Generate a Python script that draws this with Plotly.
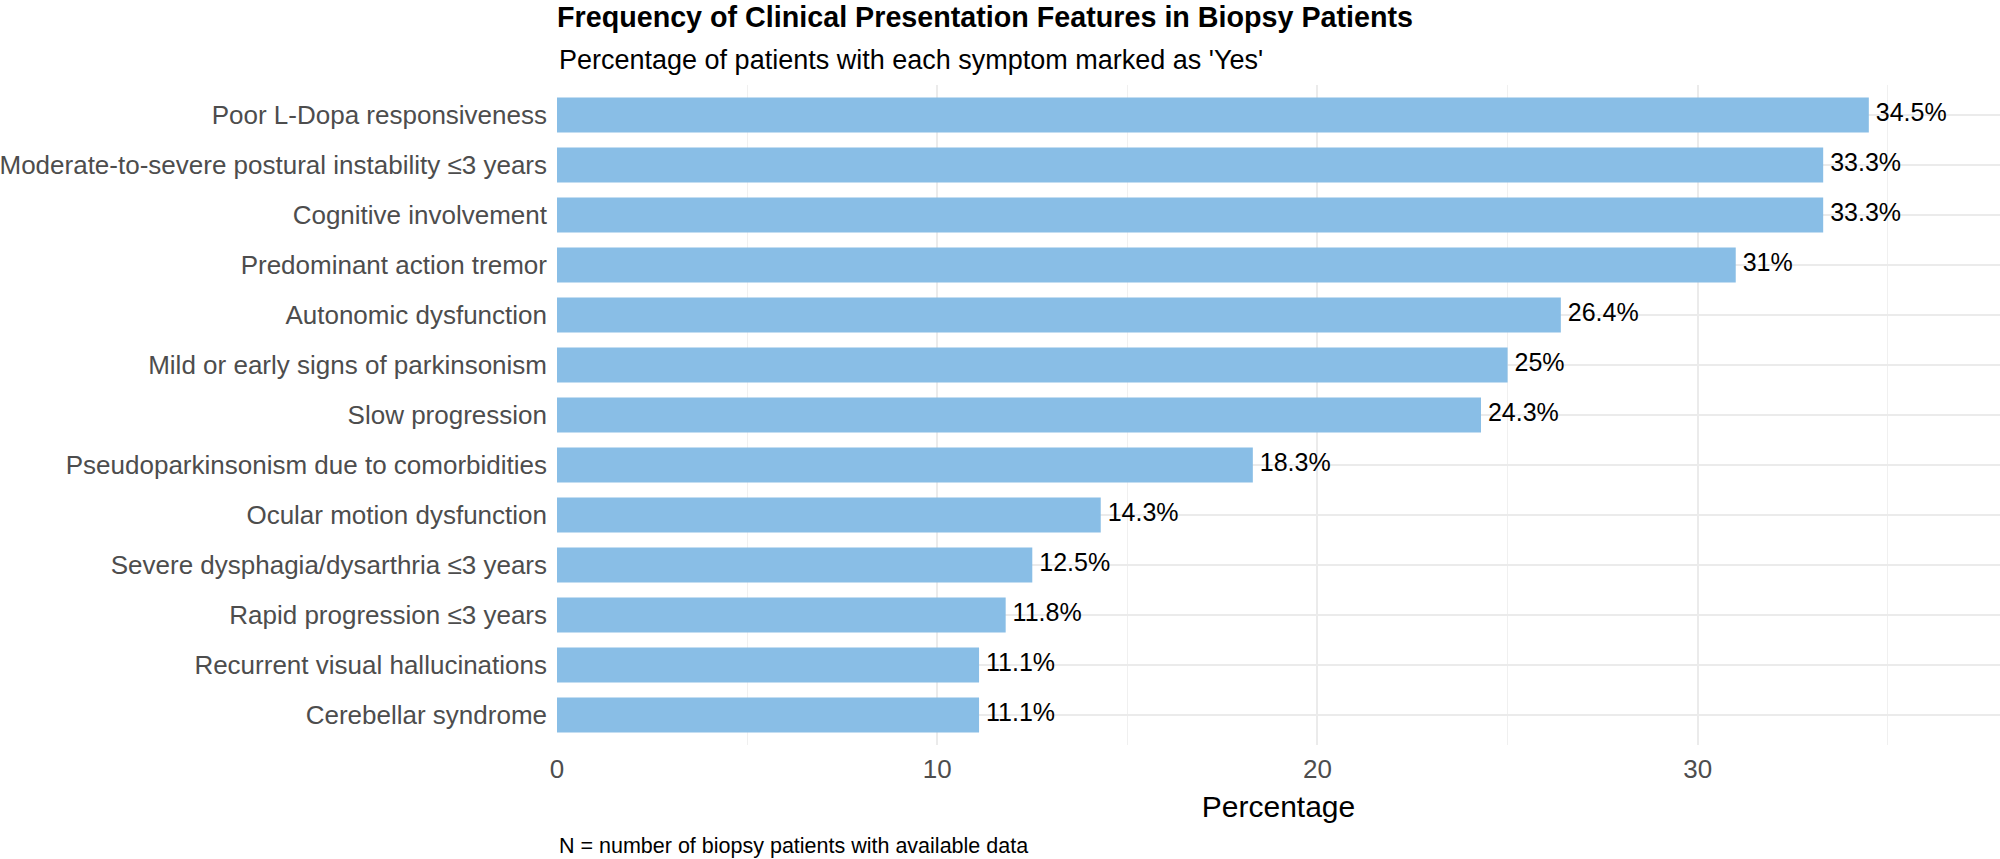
import plotly.graph_objects as go

categories = [
    "Poor L-Dopa responsiveness",
    "Moderate-to-severe postural instability ≤3 years",
    "Cognitive involvement",
    "Predominant action tremor",
    "Autonomic dysfunction",
    "Mild or early signs of parkinsonism",
    "Slow progression",
    "Pseudoparkinsonism due to comorbidities",
    "Ocular motion dysfunction",
    "Severe dysphagia/dysarthria ≤3 years",
    "Rapid progression ≤3 years",
    "Recurrent visual hallucinations",
    "Cerebellar syndrome",
]
percentages = [34.5, 33.3, 33.3, 31.0, 26.4, 25.0, 24.3, 18.3, 14.3, 12.5, 11.8, 11.1, 11.1]
labels = [f" {v:g}%" for v in percentages]
tick_vals = [0, 10, 20, 30]
minor_tick_vals = [5, 15, 25, 35]

FONT = "Liberation Sans, Arial, sans-serif"
BAR_COLOR = "#89BEE6"

W, H = 2000, 859
L, R, T, B = 557, 0, 85, 114
plot_h = H - T - B


def py(y_px):
    """container pixel (from top) -> paper y"""
    return (H - B - y_px) / plot_h


fig = go.Figure()
fig.add_trace(go.Bar(
    x=percentages, y=categories, orientation="h",
    marker=dict(color=BAR_COLOR, line=dict(width=0)),
    width=0.7, hoverinfo="x+y",
))
fig.add_trace(go.Scatter(
    x=percentages, y=categories, mode="text", text=labels,
    textposition="middle right",
    textfont=dict(family=FONT, size=25, color="black"),
    cliponaxis=False, hoverinfo="skip",
))

fig.update_layout(
    width=W, height=H,
    margin=dict(l=L, r=R, t=T, b=B, autoexpand=False),
    plot_bgcolor="white", paper_bgcolor="white",
    showlegend=False,
    font=dict(family=FONT, color="#4D4D4D"),
    title=dict(
        text="<b>Frequency of Clinical Presentation Features in Biopsy Patients</b>",
        x=L / W, xanchor="left", xref="container",
        y=1 - 17 / H, yanchor="middle", yref="container",
        font=dict(family=FONT, size=28.7, color="black"),
    ),
    xaxis=dict(
        range=[0, 37.95],
        tickvals=tick_vals,
        tickfont=dict(family=FONT, size=26, color="#4D4D4D"),
        showgrid=True, gridcolor="#EBEBEB", gridwidth=1.5,
        minor=dict(tickvals=minor_tick_vals, showgrid=True, gridcolor="#F0F0F0", gridwidth=1),
        zeroline=False, showline=False, ticks="", ticklabelstandoff=6,
        title=dict(text="Percentage", font=dict(family=FONT, size=30, color="black"), standoff=12),
        automargin=False, fixedrange=True,
    ),
    yaxis=dict(
        range=[12.6, -0.6],
        tickfont=dict(family=FONT, size=26, color="#4D4D4D"),
        showgrid=True, gridcolor="#EBEBEB", gridwidth=1.5,
        zeroline=False, showline=False, ticks="", ticklabelstandoff=9,
        automargin=False, fixedrange=True,
    ),
    annotations=[
        dict(text="Percentage of patients with each symptom marked as 'Yes'",
             x=0, xref="paper", xanchor="left",
             y=py(60), yref="paper", yanchor="middle",
             showarrow=False, font=dict(family=FONT, size=27, color="black")),
        dict(text="N = number of biopsy patients with available data",
             x=0, xref="paper", xanchor="left",
             y=py(846), yref="paper", yanchor="middle",
             showarrow=False, font=dict(family=FONT, size=21.5, color="black")),
    ],
)

fig.write_html("out.html", config={"displayModeBar": False},
               post_script="document.body.style.margin='0';")
